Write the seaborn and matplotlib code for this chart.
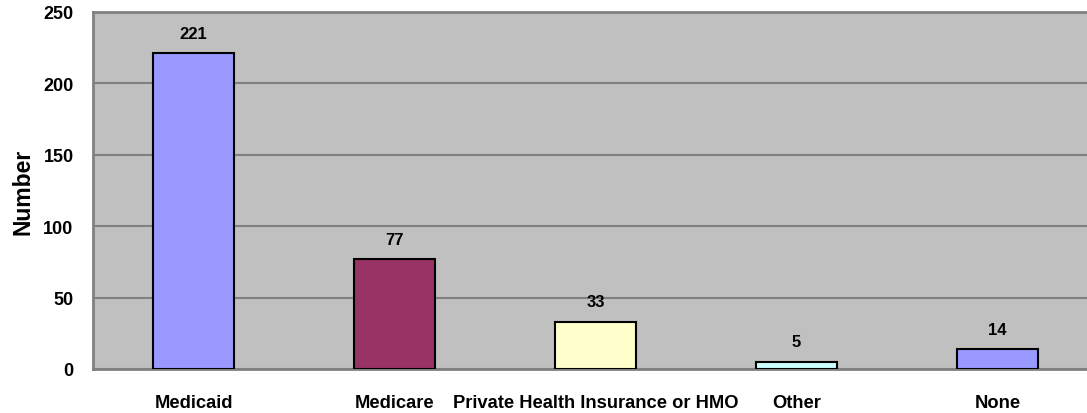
import matplotlib
matplotlib.use("Agg")
import matplotlib.pyplot as plt
import seaborn as sns
import pandas as pd

categories = ["Medicaid", "Medicare", "Private Health Insurance or HMO", "Other", "None"]
values = [221, 77, 33, 5, 14]
colors = ["#9999FF", "#993366", "#FFFFCC", "#CCFFFF", "#9999FF"]
yticks = [0, 50, 100, 150, 200, 250]

sns.set_theme(style="white")
plt.rcParams["font.family"] = ["Liberation Sans", "DejaVu Sans"]
plt.rcParams["font.weight"] = "bold"
plt.rcParams["text.color"] = "black"
plt.rcParams["xtick.color"] = "black"
plt.rcParams["ytick.color"] = "black"
plt.rcParams["axes.labelcolor"] = "black"

df = pd.DataFrame({"category": categories, "value": values})

fig = plt.figure(figsize=(10.87, 4.14), dpi=100)
ax = fig.add_axes([93 / 1087, 44 / 414, 1005 / 1087, 357 / 414])
ax.set_facecolor("#C0C0C0")

sns.barplot(data=df, x="category", y="value", hue="category",
            palette=dict(zip(categories, colors)), dodge=False, width=0.4,
            saturation=1, edgecolor="black", linewidth=1.5, legend=False,
            ax=ax, zorder=3)

for c in ax.containers:
    ax.bar_label(c, padding=9, fontsize=12, fontweight="bold", color="black")

ax.set_xlim(-0.5, 4.5)
ax.set_ylim(0, 250)
ax.set_yticks(yticks)
ax.set_yticklabels([str(t) for t in yticks], fontsize=13, fontweight="bold")
ax.set_xticks(range(len(categories)))
ax.set_xticklabels(categories, fontsize=13.2, fontweight="bold")
ax.tick_params(axis="y", length=0, pad=14, colors="black")
ax.tick_params(axis="x", length=0, pad=18, colors="black")
ax.yaxis.grid(True, color="#808080", linewidth=1.5, zorder=1)
ax.set_axisbelow(True)
ax.set_xlabel("")
ax.set_ylabel("Number", fontsize=16.5, fontweight="bold", labelpad=6, color="black")
for s in ax.spines.values():
    s.set_color("#808080")
    s.set_linewidth(2)

fig.savefig("out.png", dpi=100)
